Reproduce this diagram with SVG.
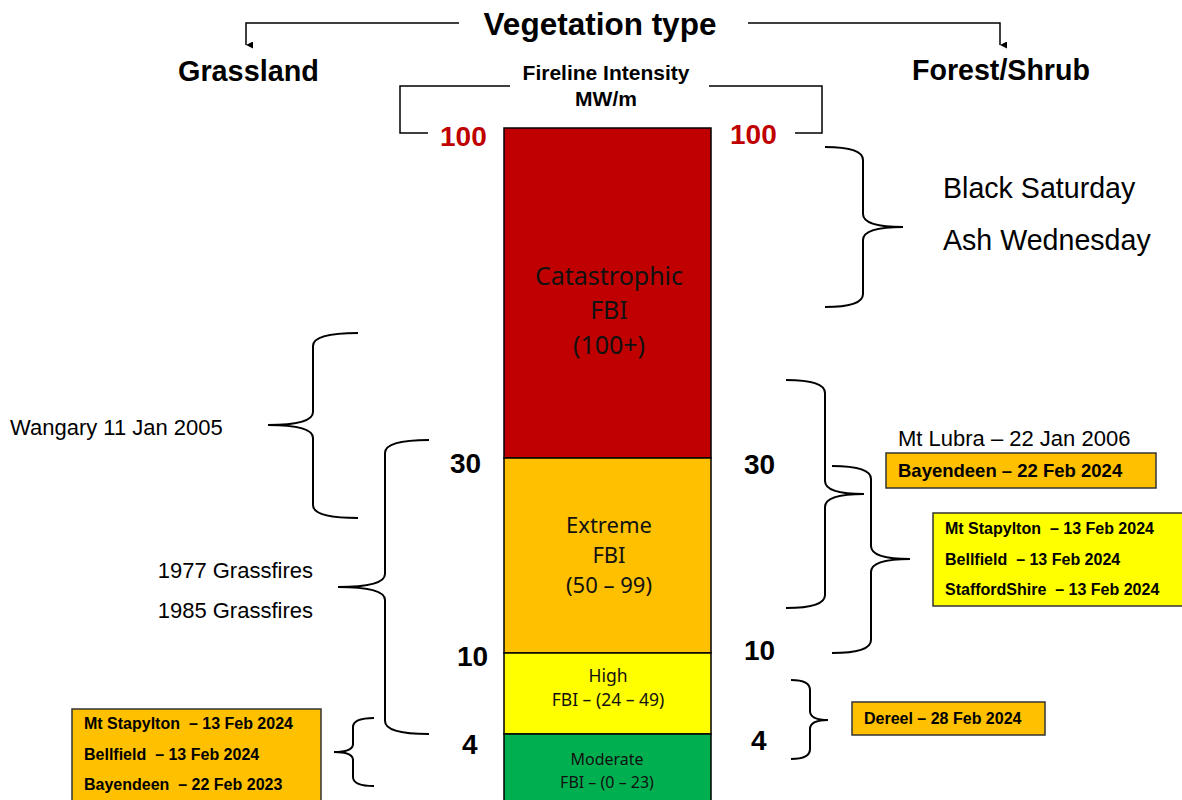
<svg xmlns="http://www.w3.org/2000/svg" width="1182" height="800" viewBox="0 0 1182 800">
<defs>
<marker id="arr" viewBox="0 0 10 10" refX="5" refY="10" markerWidth="7" markerHeight="7" orient="auto-start-reverse" markerUnits="userSpaceOnUse">
<path d="M0,0 L10,0 L5,10 Z" fill="#000"/>
</marker>
</defs>
<style>
text{font-family:"Liberation Sans",Arial,sans-serif;white-space:pre}
.b{font-weight:bold;fill:#000}
.red{font-weight:bold;fill:#C00000;font-size:28px}
.num{font-weight:bold;fill:#000;font-size:28px}
.reg{fill:#000}
.col{font-family:"Noto Sans","Open Sans",sans-serif;fill:#111;text-anchor:middle}
.brace{fill:none;stroke:#000;stroke-width:2}
.line{fill:none;stroke:#000;stroke-width:1.5}
.box{stroke:#333;stroke-width:1.5}
</style>
<rect width="1182" height="800" fill="#fff"/>

<g id="connectors">
<path class="line" d="M459,23 H246 V45" marker-end="url(#arr)"/>
<path class="line" d="M748,23 H1000 V45" marker-end="url(#arr)"/>
<path class="line" d="M510,86 H400 V133 H428"/>
<path class="line" d="M709,86 H822 V133 H795"/>
<path class="brace" d="M825,147 Q863,147 863,160 L863,214 Q863,227 903,227 Q863,227 863,240 L863,294 Q863,307 825,307"/>
<path class="brace" d="M786,380 Q825,380 825,393 L825,481 Q825,494 864,494 Q825,494 825,507 L825,595 Q825,608 786,608"/>
<path class="brace" d="M832,466 Q871,466 871,479 L871,546 Q871,559 910,559 Q871,559 871,572 L871,640 Q871,653 832,653"/>
<path class="brace" d="M791,680 Q810,680 810,690 L810,711 Q810,720 828,720 Q810,720 810,729 L810,749 Q810,759 791,759"/>
<path class="brace" d="M358,333 Q313,333 313,346 L313,412 Q313,425 268,425 Q313,425 313,438 L313,505 Q313,518 358,518"/>
<path class="brace" d="M429,440 Q385,440 385,453 L385,574 Q385,587 338,587 Q385,587 385,600 L385,721 Q385,734 429,734"/>
<path class="brace" d="M374,718 Q353,718 353,727 L353,744 Q353,752 334,752 Q353,752 353,760 L353,777 Q353,786 374,786"/>
</g>

<g id="title">
<text class="b" x="600" y="35" font-size="31.5" text-anchor="middle">Vegetation type</text>
</g>
<g id="grassland">
<text class="b" x="178" y="81" font-size="28.8">Grassland</text>
</g>
<g id="forest">
<text class="b" x="912" y="80" font-size="28.6">Forest/Shrub</text>
</g>
<g id="fireline">
<text class="b" x="606" y="80" font-size="21" text-anchor="middle">Fireline Intensity</text>
<text class="b" x="606" y="106" font-size="21" text-anchor="middle">MW/m</text>
</g>

<g id="scale-left">
<text class="red" x="440" y="146">100</text>
<text class="num" x="450" y="473">30</text>
<text class="num" x="457" y="666">10</text>
<text class="num" x="462" y="754">4</text>
</g>
<g id="scale-right">
<text class="red" x="730" y="144">100</text>
<text class="num" x="744" y="474">30</text>
<text class="num" x="744" y="660">10</text>
<text class="num" x="751" y="750">4</text>
</g>

<g id="column">
<rect x="504" y="128" width="207" height="330" fill="#C00000" stroke="#000" stroke-width="1.5"/>
<rect x="504" y="458" width="207" height="195" fill="#FFC000" stroke="#000" stroke-width="1.5"/>
<rect x="504" y="653" width="207" height="81" fill="#FFFF00" stroke="#000" stroke-width="1.5"/>
<rect x="504" y="734" width="207" height="80" fill="#00B050" stroke="#000" stroke-width="1.5"/>
<text class="col" x="609" y="285" font-size="25">Catastrophic</text>
<text class="col" x="609" y="319" font-size="25">FBI</text>
<text class="col" x="609" y="354" font-size="25">(100+)</text>
<text class="col" x="609" y="533" font-size="22">Extreme</text>
<text class="col" x="609" y="563" font-size="22">FBI</text>
<text class="col" x="609" y="593" font-size="22">(50 – 99)</text>
<text class="col" x="608" y="682" font-size="17.5">High</text>
<text class="col" x="608" y="706" font-size="17.5">FBI – (24 – 49)</text>
<text class="col" x="607" y="765" font-size="16">Moderate</text>
<text class="col" x="607" y="788" font-size="16">FBI – (0 – 23)</text>
</g>

<g id="black-saturday">
<text class="reg" x="943" y="198" font-size="28.6">Black Saturday</text>
<text class="reg" x="943" y="250" font-size="28.6">Ash Wednesday</text>
</g>
<g id="mt-lubra">
<text class="reg" x="898" y="446" font-size="22">Mt Lubra – 22 Jan 2006</text>
</g>
<g id="bayendeen-2024">
<rect class="box" x="886" y="453" width="270" height="35" fill="#FFC000"/>
<text class="b" x="898" y="477" font-size="18.5">Bayendeen – 22 Feb 2024</text>
</g>
<g id="forest-yellow">
<rect class="box" x="933" y="513" width="260" height="93" fill="#FFFF00"/>
<text class="b" x="945" y="534" font-size="16">Mt Stapylton  – 13 Feb 2024</text>
<text class="b" x="945" y="565" font-size="16">Bellfield  – 13 Feb 2024</text>
<text class="b" x="945" y="595" font-size="16">StaffordShire  – 13 Feb 2024</text>
</g>
<g id="dereel">
<rect class="box" x="852" y="702" width="193" height="33" fill="#FFC000"/>
<text class="b" x="864" y="724" font-size="16">Dereel – 28 Feb 2024</text>
</g>
<g id="wangary">
<text class="reg" x="10" y="435" font-size="22">Wangary 11 Jan 2005</text>
</g>
<g id="grassfires">
<text class="reg" x="313" y="578" font-size="22" text-anchor="end">1977 Grassfires</text>
<text class="reg" x="313" y="618" font-size="22" text-anchor="end">1985 Grassfires</text>
</g>
<g id="grass-orange">
<rect class="box" x="72" y="709" width="249" height="110" fill="#FFC000"/>
<text class="b" x="84" y="729" font-size="16">Mt Stapylton  – 13 Feb 2024</text>
<text class="b" x="84" y="760" font-size="16">Bellfield  – 13 Feb 2024</text>
<text class="b" x="84" y="790" font-size="16">Bayendeen  – 22 Feb 2023</text>
</g>
</svg>
